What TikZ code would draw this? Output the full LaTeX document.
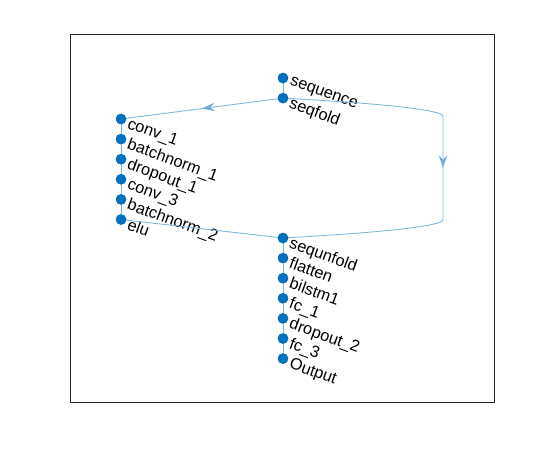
\documentclass[tikz,border=0pt]{standalone}
\usepackage{fontspec}
\setmainfont{Liberation Sans}
\usetikzlibrary{arrows.meta,positioning,decorations.markings}
\definecolor{mlnode}{RGB}{0,114,189}
\definecolor{mledge}{RGB}{128,184,222}
\definecolor{mlaxis}{RGB}{38,38,38}
\tikzset{
  dot/.style={
    circle, fill=mlnode, inner sep=0pt, minimum size=10.5pt,
    label={[lbl]east:#1}
  },
  lbl/.style={
    anchor=north west, rotate=-20, inner sep=0pt, xshift=3pt, yshift=3pt,
    font=\fontsize{16.3}{18}\selectfont, text=black
  },
  edge/.style={draw=mledge, line width=0.9pt},
  arr/.style={edge, postaction={decorate}, decoration={markings,
    mark=at position 0.5 with {\arrow[mledge!85!mlnode]{Stealth[length=13pt,width=8.5pt,inset=5pt]}}}},
  axbox/.style={draw=mlaxis, line width=0.8pt}
}
\begin{document}
\begin{tikzpicture}[x=1pt, y=-1pt, node distance=9.2pt]
  \useasboundingbox (0,0) rectangle (547,453);
  \draw[axbox] (70,34) rectangle (494,402);
  % corners of the long branch
  \coordinate (tr) at (443,118);
  \coordinate (br) at (443,218);
  % top pair
  \node[dot=sequence] (seq) at (283,78) {};
  \node[dot=seqfold, below=of seq] (fold) {};
  % left column
  \node[dot=conv\_1] (c1) at (121,119) {};
  \node[dot=batchnorm\_1, below=of c1] (bn1) {};
  \node[dot=dropout\_1, below=of bn1] (do1) {};
  \node[dot=conv\_3, below=of do1] (c3) {};
  \node[dot=batchnorm\_2, below=of c3] (bn2) {};
  \node[dot=elu, below=of bn2] (elu) {};
  % bottom column
  \node[dot=sequnfold] (unf) at (283,238) {};
  \node[dot=flatten, below=of unf] (flat) {};
  \node[dot=bilstm1, below=of flat] (lstm) {};
  \node[dot=fc\_1, below=of lstm] (fc1) {};
  \node[dot=dropout\_2, below=of fc1] (do2) {};
  \node[dot=fc\_3, below=of do2] (fc3) {};
  \node[dot=Output, below=of fc3] (out) {};
  % connectors
  \draw[edge] (seq) -- (fold);
  \draw[arr] (fold.center) -- (c1.center);
  \draw[arr] (fold.center) .. controls (390,104) and (440,110) .. ([yshift=2pt]tr)
    -- ([yshift=-2pt]br) .. controls (440,226) and (390,232) .. (unf.center);
  \foreach \a/\b in {c1/bn1, bn1/do1, do1/c3, c3/bn2, bn2/elu,
      unf/flat, flat/lstm, lstm/fc1, fc1/do2, do2/fc3, fc3/out}
    \draw[edge] (\a) -- (\b);
  \draw[edge] (elu.center) -- (unf.center);
  % dots on top
  \foreach \n in {seq,fold,c1,bn1,do1,c3,bn2,elu,unf,flat,lstm,fc1,do2,fc3,out}
    \fill[mlnode] (\n.center) circle (5.25pt);
\end{tikzpicture}
\end{document}
